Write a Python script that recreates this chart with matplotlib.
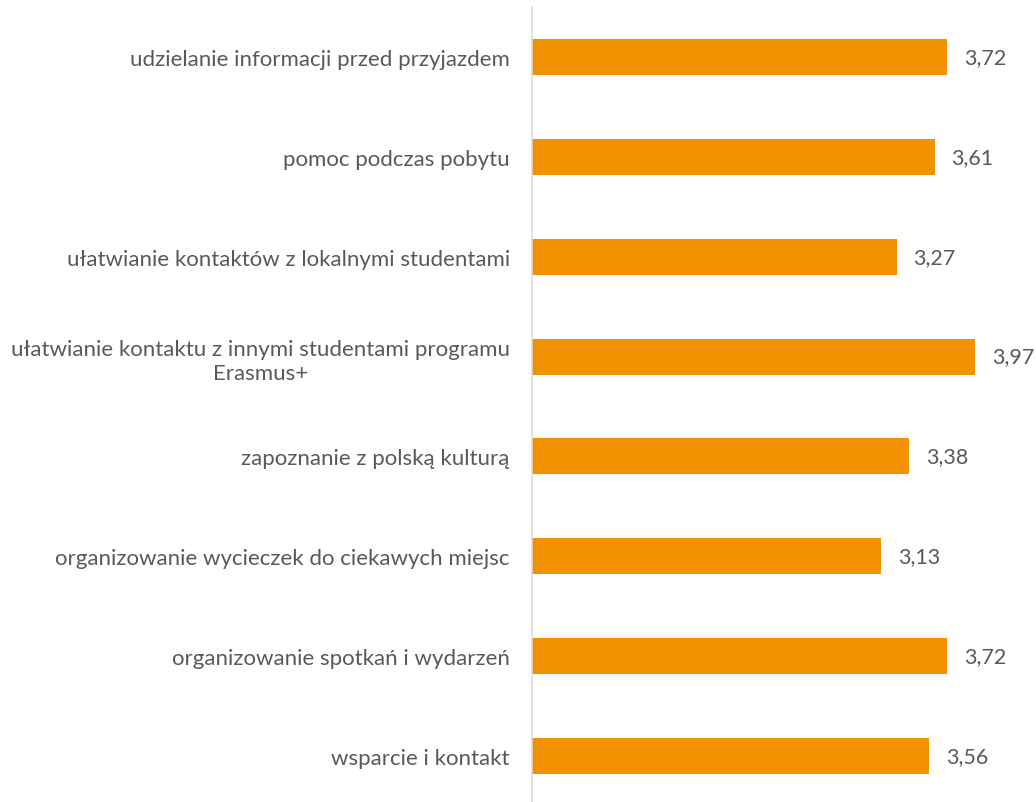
import matplotlib.pyplot as plt

# Data (top to bottom as in the chart)
categories = [
    "udzielanie informacji przed przyjazdem",
    "pomoc podczas pobytu",
    "ułatwianie kontaktów z lokalnymi studentami",
    "ułatwianie kontaktu z innymi studentami programu\nErasmus+",
    "zapoznanie z polską kulturą",
    "organizowanie wycieczek do ciekawych miejsc",
    "organizowanie spotkań i wydarzeń",
    "wsparcie i kontakt",
]
values = [3.72, 3.61, 3.27, 3.97, 3.38, 3.13, 3.72, 3.56]

barColor = '#F39200'
textColor = '#595959'

plt.rcParams['font.family'] = ['Lato', 'DejaVu Sans']

fig = plt.figure(figsize=(10.36, 8.03), dpi=100)
ax = fig.add_axes([0.5135, -0.005, 0.4846, 0.995])

positions = list(range(len(categories)))
ax.barh(positions, values, height=0.36, color=barColor)
ax.set_ylim(len(categories) - 0.5, -0.5)
ax.set_xlim(0, 4.5)

# Value labels with a decimal comma
for pos, val in zip(positions, values):
    ax.text(val + 0.15, pos, ("%.2f" % val).replace('.', ','),
            va='center', ha='left', fontsize=15.5, color=textColor)

ax.set_yticks(positions)
ax.set_yticklabels(categories, fontsize=16, color=textColor,
                   multialignment='center', linespacing=1.3)
ax.tick_params(axis='y', length=0, pad=16)
ax.set_xticks([])

for side in ['top', 'right', 'bottom']:
    ax.spines[side].set_visible(False)
ax.spines['left'].set_color('#d9d9d9')
ax.spines['left'].set_linewidth(1.2)

fig.savefig('out.png', dpi=100)
